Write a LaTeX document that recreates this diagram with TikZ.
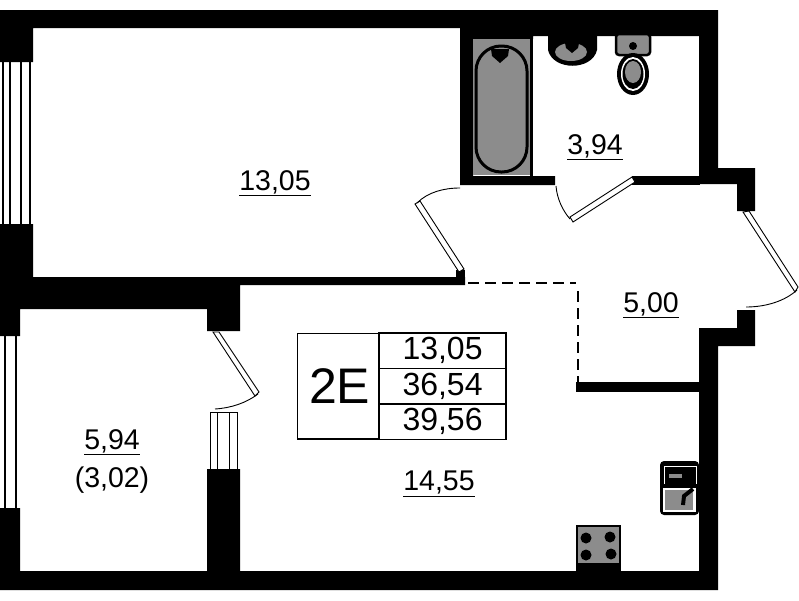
\documentclass[tikz,border=0pt]{standalone}
\usepackage{xcolor}
\usepackage{fontspec}
\setmainfont{Liberation Sans}
\usetikzlibrary{matrix,positioning}
\definecolor{fixture}{gray}{0.55}
\tikzset{
    wall/.style={fill=black},
    leaf/.style={draw=black, fill=white, line width=0.9pt},
    swing/.style={draw=black, line width=0.9pt},
    pane/.style={draw=black, line width=1.5pt},
    fixturebox/.style={draw=black, fill=fixture, line width=2pt},
    area/.style={font=\fontsize{28.5}{30}\selectfont, inner sep=0pt},
}

\begin{document}
\begin{tikzpicture}[x=1pt, y=-1pt]
            \useasboundingbox (0,0) rectangle (799,600);

            % Outer walls
            \fill[wall] (0,10) -- (718,10) -- (718,168) -- (755,168) -- (755,211) -- (737,211) -- (737,184)
                -- (699,184) -- (699,36) -- (533,36) -- (533,39) -- (460,39) -- (460,28) -- (33,28) -- (33,62) -- (0,62) -- cycle;
            \fill[wall] (0,224) -- (33,224) -- (33,277) -- (465,277) -- (465,285) -- (240,285) -- (240,331)
                -- (207,331) -- (207,309) -- (20,309) -- (20,336) -- (0,336) -- cycle;
            \fill[wall] (0,508) -- (20,508) -- (20,571) -- (207,571) -- (207,469) -- (240,469) -- (240,571)
                -- (699,571) -- (699,328) -- (737,328) -- (737,310) -- (755,310) -- (755,346) -- (718,346)
                -- (718,590) -- (0,590) -- cycle;

            % Inner walls
            \fill[wall] (460,28) -- (473,28) -- (473,176) -- (555,176) -- (555,185) -- (460,185) -- cycle;
            \fill[wall] (632,176) rectangle (700,185);
            \fill[wall] (456,270) rectangle (465,285);
            \fill[wall] (576,382) rectangle (699,392);

            % Windows
            \foreach \x in {3,10,21,30} {
                    \draw[pane] (\x,62) -- (\x,224);
                }
            \foreach \x in {5,16} {
                    \draw[pane] (\x,336) -- (\x,508);
                }
            \draw[line width=0.9pt] (210,469) -- (210,412) -- (237,412) -- (237,469);
            \foreach \x in {217,229} {
                    \draw[line width=0.9pt] (\x,412) -- (\x,469);
                }

            % Doors
            \draw[leaf] (459,272) -- (464,269) -- (420,201) -- (415,204) -- cycle;
            \draw[swing] (417,203) .. controls (428,192) and (444,188) .. (460,188);
            \draw[leaf] (632,177) -- (635,182) -- (573,222) -- (570,217) -- cycle;
            \draw[swing] (556,186) .. controls (557,199) and (563,211) .. (570,219);
            \draw[leaf] (743,212) -- (749,211) -- (798,287) -- (795,292) -- cycle;
            \draw[swing] (797,290) .. controls (785,301) and (766,307) .. (746,307);
            \draw[leaf] (213,332) -- (219,332) -- (259,392) -- (255,396) -- cycle;
            \draw[swing] (258,394) .. controls (246,403) and (231,408) .. (215,409);

            % Partition between the living room and the hall
            \draw[line width=1.2pt, dash pattern=on 11pt off 6pt] (468,283) -- (576,283);
            \draw[line width=1.2pt, dash pattern=on 11pt off 6pt] (578,291) -- (578,382);

            % Bath
            \fill[fixture] (473,39) rectangle (530,175);
            \fill[wall] (530,36) rectangle (533,176);
            \draw[black, line width=3pt, rounded corners=25pt] (476,46) rectangle (527,172);
            \fill[black] (491,49) -- (509,49) -- (508,56) -- (500,63) -- (492,56) -- cycle;

            % Washbasin
            \fill[black] (548,36) -- (597,36) -- (597,50) .. controls (592,71) and (553,71) .. (548,50) -- cycle;
            \fill[fixture] (571,52) ellipse (16pt and 9pt);
            \fill[black] (564,38) -- (580,38) -- (578,48) -- (572,53) -- (566,48) -- cycle;

            % Toilet
            \fill[fixture, draw=black, line width=2.5pt, rounded corners=3pt] (616,34) rectangle (650,55);
            \fill[black] (633,46) circle (4pt);
            \fill[black] (633,74) ellipse (16pt and 21pt);
            \fill[white] (633,74) ellipse (12pt and 17pt);
            \fill[black] (633,74) ellipse (10.5pt and 15pt);
            \fill[fixture] (633,72) ellipse (8pt and 11pt);

            % Hob
            \fill[wall] (576,563) rectangle (621,572);
            \draw[fixturebox] (577,526) rectangle (620,564);
            \foreach \x/\y in {586/538, 610/537, 586/555, 611/554} {
                    \fill[black] (\x,\y) circle (5.5pt);
                }

            % Kitchen sink
            \fill[black, rounded corners=4pt] (660,461) rectangle (699,515);
            \draw[white, line width=0.8pt] (664,484) -- (664,466) -- (696,466) -- (696,484);
            \fill[white] (663,488) rectangle (696,512);
            \fill[fixture] (665,490) rectangle (693,510);
            \fill[fixture] (669,474) rectangle (682,478);
            \draw[black, line width=4pt] (693,489) -- (684,496) -- (683,505);

            % Area labels
            \node[area] (bedroom) at (275,183) {\underline{13,05}};
            \node[area] (bathroom) at (595,147) {\underline{3,94}};
            \node[area] (hall) at (651,305) {\underline{5,00}};
            \node[area] (kitchen) at (439,484) {\underline{14,55}};
            \node[area] (loggia) at (112,442) {\underline{5,94}};
            \node[area] (loggiafull) at (112,480) {(3,02)};

            % Summary table
            \matrix (totals) [matrix of nodes,
                anchor=north east,
                nodes={draw, line width=1.5pt, minimum width=127pt, minimum height=35.5pt, anchor=center,
                        font=\fontsize{32}{34}\selectfont, inner sep=0pt},
                inner sep=0pt,
                column sep=-\pgflinewidth, row sep=-1.5pt] at (507,332) {
                13,05 \\
                36,54 \\
                39,56 \\
            };
            \node (flattype) [draw, line width=1.5pt, left=-1.5pt of totals, minimum width=81.5pt, minimum height=105.5pt,
                font=\fontsize{50}{52}\selectfont, inner sep=0pt] {\hspace{3pt}2E};

        \end{tikzpicture}
\end{document}
